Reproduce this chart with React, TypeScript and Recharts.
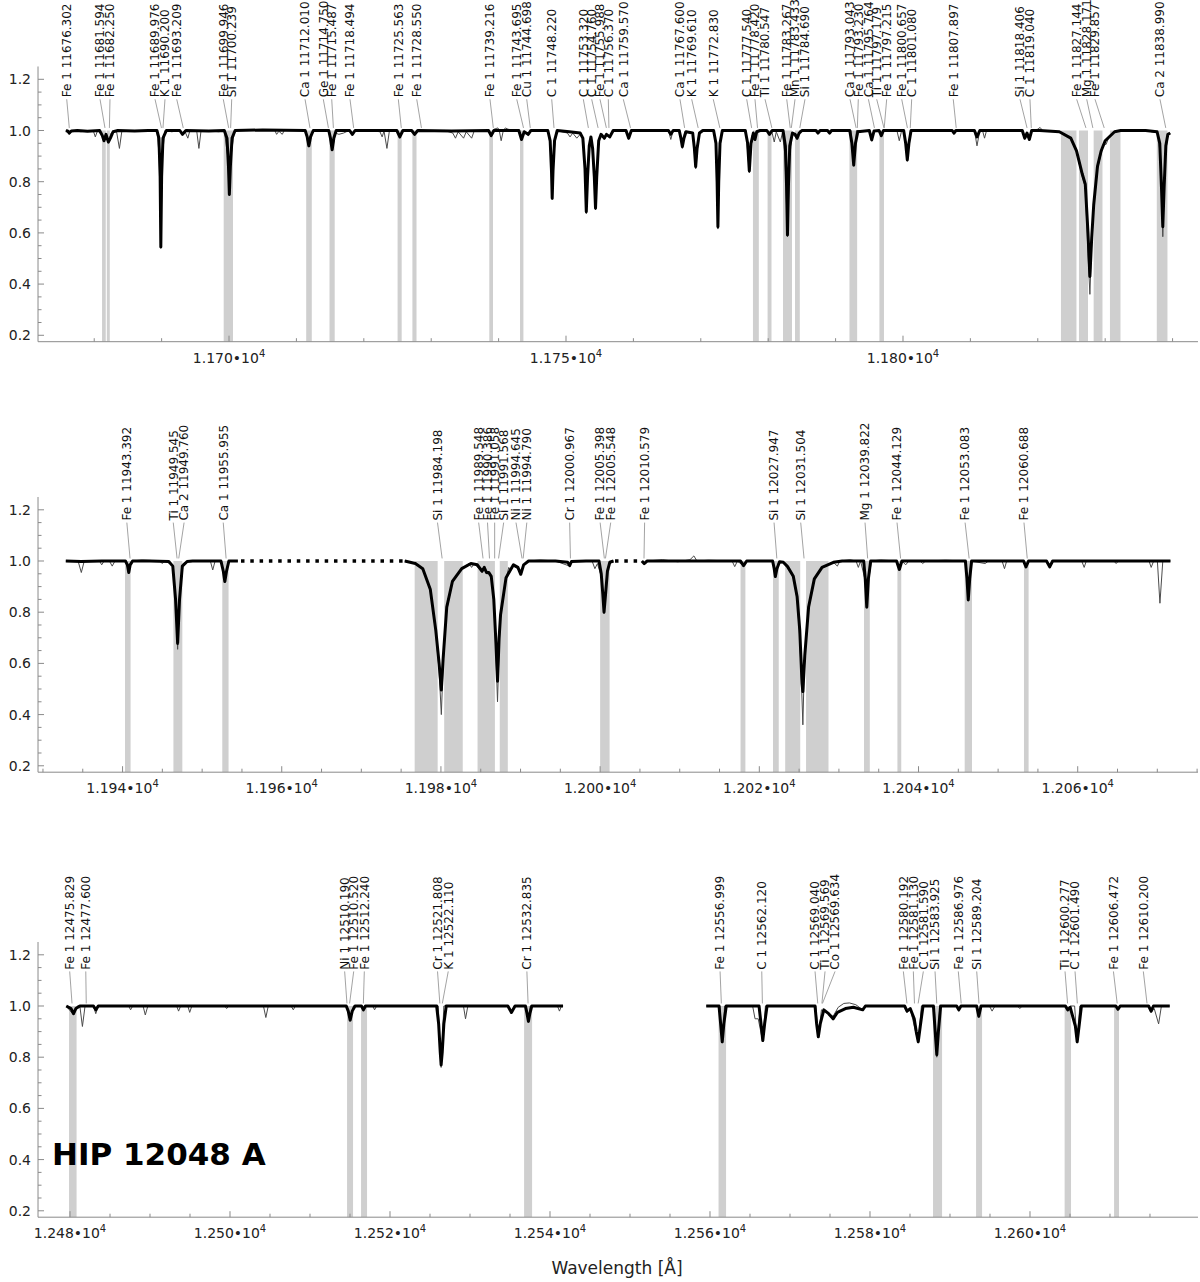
import React from 'react';
import { ComposedChart, Line, XAxis, YAxis, ReferenceArea, ReferenceLine, ReferenceDot } from 'recharts';

type P = [number, number | null];

const FONT = '"DejaVu Sans", Verdana, sans-serif';
const AXIS = '#8a8a8a';

const yTicks = [0.2, 0.25, 0.3, 0.35, 0.4, 0.45, 0.5, 0.55, 0.6, 0.65, 0.7, 0.75, 0.8, 0.85, 0.9, 0.95, 1.0, 1.05, 1.1, 1.15, 1.2];
const yMajor = [0.2, 0.4, 0.6, 0.8, 1.0, 1.2];

// ---------------- Panel 1 ----------------
const p1XMajor = [11700, 11750, 11800];
const p1XMinor = [11680, 11690, 11710, 11720, 11730, 11740, 11760, 11770, 11780, 11790, 11810, 11820, 11830, 11840];

const p1Model: P[] = [
  [11675.8,1.0],[11676.1,0.997],[11676.3,0.99],[11676.6,0.998],[11677.5,1.0],[11679.0,0.997],[11680.8,1.0],
  [11681.2,0.98],[11681.45,0.96],[11681.75,0.985],[11682.1,0.955],[11682.4,0.97],[11682.8,0.995],[11683.5,1.0],
  [11686.0,0.998],[11688.0,1.0],
  [11689.3,1.0],[11689.6,0.97],[11689.78,0.82],[11689.88,0.545],[11690.0,0.82],[11690.2,0.97],[11690.7,1.0],
  [11692.7,1.0],[11693.1,0.985],[11693.6,1.0],[11697.0,0.998],
  [11699.3,1.0],[11699.7,0.97],[11699.92,0.86],[11700.05,0.75],[11700.2,0.86],[11700.45,0.97],[11700.9,1.0],
  [11705.0,1.002],
  [11711.3,1.0],[11711.6,0.975],[11711.84,0.94],[11712.1,0.975],[11712.5,1.0],
  [11714.8,1.0],[11715.05,0.97],[11715.3,0.925],[11715.55,0.97],[11715.9,1.0],
  [11717.9,1.0],[11718.3,0.985],[11718.7,1.0],
  [11724.9,1.0],[11725.34,0.975],[11725.8,1.0],
  [11727.1,1.0],[11727.54,0.985],[11728.0,1.0],[11733.0,0.998],
  [11738.5,1.0],[11738.9,0.98],[11739.3,1.0],
  [11743.0,1.0],[11743.4,0.965],[11743.8,0.995],[11744.39,0.985],[11744.8,1.0],
  [11747.3,1.0],[11747.65,0.96],[11747.85,0.84],[11747.95,0.735],[11748.07,0.84],[11748.3,0.96],[11748.7,1.0],
  [11750.5,0.995],[11752.1,0.99],[11752.5,0.97],[11752.82,0.85],[11753.01,0.683],[11753.2,0.82],[11753.45,0.94],[11753.7,0.975],
  [11753.95,0.93],[11754.2,0.82],[11754.38,0.696],[11754.56,0.82],[11754.85,0.96],[11755.2,0.985],[11755.7,0.97],[11756.0,0.985],[11756.5,0.975],[11757.0,1.0],
  [11758.9,1.0],[11759.3,0.97],[11759.7,1.0],
  [11765.2,1.0],[11765.55,0.985],[11765.9,1.0],
  [11766.8,1.0],[11767.05,0.97],[11767.26,0.937],[11767.5,0.97],[11767.8,0.995],
  [11768.8,0.99],[11769.05,0.93],[11769.24,0.859],[11769.45,0.93],[11769.8,0.99],[11770.3,1.0],
  [11771.9,1.0],[11772.25,0.95],[11772.42,0.8],[11772.54,0.624],[11772.66,0.8],[11772.85,0.95],[11773.2,1.0],
  [11776.6,1.0],[11776.95,0.95],[11777.2,0.842],[11777.45,0.95],[11777.8,0.99],[11778.04,0.965],[11778.3,0.995],[11778.8,1.0],
  [11779.8,1.0],[11780.19,0.985],[11780.6,1.0],
  [11782.2,1.0],[11782.55,0.94],[11782.73,0.78],[11782.86,0.592],[11783.0,0.78],[11783.2,0.94],[11783.6,0.99],[11784.0,0.985],[11784.29,0.97],[11784.6,0.99],[11785.0,1.0],
  [11787.1,1.0],[11787.39,0.99],[11787.7,1.0],[11788.8,1.0],[11789.11,0.99],[11789.4,1.0],
  [11792.1,1.0],[11792.42,0.95],[11792.69,0.865],[11792.95,0.95],[11793.3,0.995],
  [11795.0,1.0],[11795.36,0.963],[11795.7,0.998],[11796.45,1.0],[11796.78,0.98],[11797.1,1.0],
  [11800.1,1.0],[11800.4,0.95],[11800.64,0.885],[11800.88,0.95],[11801.2,1.0],
  [11807.3,1.0],[11807.57,0.99],[11807.85,1.0],
  [11810.6,1.0],[11810.98,0.975],[11811.4,1.0],
  [11817.7,1.0],[11818.07,0.97],[11818.4,0.99],[11818.75,0.965],[11819.1,1.0],
  [11820.3,1.0],[11823.2,0.995],[11824.9,0.97],[11825.75,0.92],[11826.6,0.83],[11827.05,0.79],[11827.45,0.6],[11827.73,0.43],
  [11828.0,0.58],[11828.3,0.71],[11828.86,0.86],[11829.4,0.92],[11830.0,0.96],[11831.4,0.995],[11832.3,1.0],
  [11836.0,1.0],[11837.7,0.995],[11838.1,0.95],[11838.35,0.78],[11838.55,0.624],[11838.75,0.78],[11839.0,0.94],[11839.3,0.985],[11839.65,0.99],
];

const p1Observed: P[] = [
  [11675.8,1.0],[11676.3,0.985],[11676.8,1.0],[11678.0,0.995],[11679.5,1.0],[11679.85,1.0],[11680.16,0.975],[11680.5,1.0],
  [11681.2,0.98],[11681.45,0.955],[11681.75,0.985],[11682.1,0.95],[11682.5,0.99],[11683.3,0.998],[11683.74,0.93],[11684.1,0.998],[11686.0,1.0],
  [11689.3,1.0],[11689.65,0.9],[11689.88,0.54],[11690.1,0.9],[11690.5,1.0],
  [11691.5,0.995],[11692.8,1.0],[11693.1,0.985],[11693.4,1.0],[11693.89,0.97],[11694.2,1.0],[11695.2,1.0],[11695.53,0.93],[11695.85,1.0],
  [11698.5,0.995],[11699.3,1.0],[11699.8,0.9],[11700.05,0.745],[11700.3,0.9],[11700.8,1.0],
  [11703.0,1.003],[11705.0,1.0],[11706.8,1.0],[11707.06,0.985],[11707.4,0.997],[11707.9,0.985],[11708.2,1.0],
  [11711.3,1.0],[11711.84,0.935],[11712.4,1.0],
  [11714.8,1.0],[11715.3,0.92],[11715.8,0.99],[11716.3,0.985],[11717.0,0.99],[11717.8,1.0],[11718.3,0.98],[11718.7,1.0],
  [11721.0,1.0],[11722.4,0.995],[11722.72,0.975],[11723.0,0.998],[11723.43,0.93],[11723.8,1.0],
  [11725.0,1.0],[11725.34,0.97],[11725.7,1.0],[11727.2,1.0],[11727.54,0.98],[11727.9,1.0],
  [11732.0,1.0],[11733.2,0.99],[11733.6,0.97],[11734.0,0.995],[11734.8,0.97],[11735.2,0.995],[11736.0,0.97],[11736.4,1.0],
  [11738.5,1.0],[11738.9,0.975],[11739.3,1.005],[11739.9,1.01],[11740.1,1.0],[11740.38,0.96],[11740.7,1.0],[11741.0,1.01],[11741.4,1.005],[11742.5,1.0],
  [11743.0,1.0],[11743.4,0.96],[11743.8,0.995],[11744.39,0.98],[11744.8,1.0],
  [11747.4,1.0],[11747.75,0.9],[11747.95,0.73],[11748.15,0.9],[11748.6,1.0],
  [11750.2,0.99],[11750.6,0.975],[11751.0,0.99],[11751.6,0.97],[11752.1,0.985],
  [11752.6,0.96],[11752.85,0.82],[11753.01,0.675],[11753.2,0.82],[11753.45,0.94],[11753.7,0.97],[11753.95,0.92],[11754.2,0.8],[11754.38,0.69],
  [11754.56,0.8],[11754.85,0.955],[11755.2,0.985],[11755.7,0.965],[11756.0,0.985],[11756.5,0.97],[11757.0,1.0],
  [11759.0,1.0],[11759.3,0.965],[11759.6,1.0],
  [11765.2,1.0],[11765.55,0.965],[11765.9,1.0],
  [11766.9,1.0],[11767.26,0.93],[11767.6,0.995],[11768.8,0.99],[11769.24,0.85],[11769.7,0.99],[11770.3,1.0],
  [11772.0,1.0],[11772.35,0.9],[11772.54,0.615],[11772.75,0.9],[11773.1,1.0],
  [11776.7,1.0],[11777.2,0.835],[11777.6,0.98],[11778.04,0.96],[11778.4,1.0],
  [11779.9,1.0],[11780.19,0.985],[11780.5,1.0],[11780.9,0.955],[11781.2,0.995],[11781.8,0.955],[11782.1,0.99],
  [11782.5,0.9],[11782.86,0.585],[11783.2,0.9],[11783.6,0.99],[11784.29,0.965],[11784.7,1.0],
  [11787.1,1.0],[11787.39,0.99],[11787.7,1.0],[11788.8,1.0],[11789.11,0.99],[11789.4,1.0],
  [11792.3,1.0],[11792.69,0.86],[11793.1,1.0],[11795.0,1.0],[11795.36,0.96],[11795.7,1.0],[11796.45,1.0],[11796.78,0.975],[11797.1,1.0],
  [11799.1,1.0],[11799.45,0.96],[11799.8,1.0],[11800.2,0.99],[11800.64,0.88],[11801.1,1.0],
  [11807.3,1.0],[11807.57,0.985],[11807.85,1.0],
  [11810.6,1.0],[11810.98,0.94],[11811.4,1.0],[11811.8,1.0],[11812.1,0.97],[11812.4,1.0],
  [11817.7,1.0],[11818.07,0.965],[11818.4,0.99],[11818.75,0.96],[11819.1,1.0],
  [11820.0,1.005],[11820.34,1.012],[11820.7,1.0],
  [11823.2,0.995],[11824.9,0.97],[11825.75,0.915],[11826.6,0.82],[11827.05,0.78],[11827.45,0.52],[11827.73,0.36],[11828.0,0.56],
  [11828.3,0.70],[11828.86,0.85],[11829.4,0.91],[11829.8,0.95],[11830.12,0.945],[11830.5,0.97],[11831.4,0.995],[11832.3,1.0],
  [11834.0,1.003],[11836.0,1.0],[11837.8,0.99],[11838.2,0.9],[11838.55,0.585],[11838.9,0.9],[11839.3,0.98],[11839.65,0.99],
];

const p1Bands: [number, number][] = [
  [11681.16,11681.71],[11681.87,11682.31],[11699.21,11700.59],[11711.45,11712.28],[11714.91,11715.68],[11725.01,11725.62],
  [11727.21,11727.82],[11738.62,11739.17],[11743.18,11743.68],[11777.74,11778.61],[11779.91,11780.49],[11782.20,11783.53],
  [11783.98,11784.69],[11792.06,11793.20],[11796.50,11797.18],[11823.44,11825.74],[11826.11,11827.45],[11828.29,11829.60],
  [11830.71,11832.27],[11837.66,11839.24],
];

const p1Species = ['Fe 1','Fe 1','Fe 1','Fe 1','K 1','Fe 1','Fe 1','Si 1','Ca 1','Ge 1','Fe 1','Fe 1','Fe 1','Fe 1','Fe 1','Fe 1','Cu 1','C 1','C 1','C 1','Fe 1','C 1','Ca 1','Ca 1','K 1','K 1','C 1','Fe 1','Ti 1','Fe 1','Mn 1','Si 1','Ca 1','Fe 1','Ca 1','Ti 1','Fe 1','Fe 1','C 1','Fe 1','Si 1','C 1','Fe 1','Mg 1','Fe 1','Ca 2'];
const p1LineWl = [11676.302,11681.594,11682.250,11689.976,11690.200,11693.209,11699.946,11700.239,11712.010,11714.750,11715.487,11718.494,11725.563,11728.550,11739.216,11743.695,11744.698,11748.220,11753.320,11754.760,11755.988,11756.370,11759.570,11767.600,11769.610,11772.830,11777.540,11778.420,11780.547,11783.267,11783.433,11784.690,11793.043,11793.230,11795.764,11797.179,11797.215,11800.657,11801.080,11807.897,11818.406,11819.040,11827.144,11828.171,11829.857,11838.990];
const p1TargetWl = p1LineWl;
const p1LabelWl = [11675.92,11680.86,11682.34,11689.02,11690.50,11692.24,11699.15,11700.40,11711.28,11713.99,11715.24,11717.95,11725.12,11727.85,11738.72,11742.69,11744.17,11747.88,11752.57,11753.81,11755.04,11756.28,11758.50,11766.91,11768.65,11771.85,11776.81,11778.04,11779.53,11782.75,11783.98,11785.46,11792.14,11793.37,11794.87,11796.10,11797.58,11799.81,11801.29,11807.46,11817.36,11818.84,11825.77,11827.26,11828.49,11838.13];

// ---------------- Panel 2 ----------------
const p2XMajor = [11940, 11960, 11980, 12000, 12020, 12040, 12060];
const p2XMinor = [11930,11935,11945,11950,11955,11965,11970,11975,11985,11990,11995,12005,12010,12015,12025,12030,12035,12045,12050,12055,12065,12070,12075];

const p2Model: P[] = [
  [11932.87,1.0],[11934.79,0.998],[11937.39,1.0],[11940.36,1.0],[11940.61,0.985],[11940.78,0.955],[11940.96,0.985],[11941.26,1.0],
  [11943.44,1.0],[11945.81,0.998],[11946.31,0.98],[11946.66,0.85],[11946.92,0.678],[11947.16,0.85],[11947.51,0.98],[11948.11,0.998],[11948.81,1.0],
  [11952.36,1.0],[11952.66,0.96],[11952.85,0.92],[11953.06,0.96],[11953.36,1.0],[11954.49,1.0],
  [11964.6,null],
  [11975.45,1.0],[11976.79,0.99],[11977.72,0.97],[11978.66,0.89],[11979.35,0.73],[11979.77,0.6],[11980.05,0.496],[11980.28,0.62],[11980.73,0.82],
  [11981.44,0.92],[11982.61,0.97],[11983.76,0.99],[11984.58,0.985],[11985.16,0.96],[11985.44,0.975],[11985.72,0.955],[11986.02,0.955],[11986.32,0.94],
  [11986.64,0.85],[11986.88,0.7],[11987.11,0.53],[11987.31,0.7],[11987.49,0.79],[11988.18,0.935],[11989.11,0.985],[11989.67,0.975],[11990.03,0.948],
  [11990.39,0.985],[11991.01,1.0],[11994.38,1.0],[11995.92,0.995],[11996.17,0.982],[11996.40,0.998],[11998.22,1.0],
  [11999.86,1.0],[12000.14,0.95],[12000.34,0.87],[12000.49,0.8],[12000.68,0.87],[12000.92,0.96],[12001.21,0.995],[12001.68,1.0],
  [12003.5,null],
  [12005.24,1.0],[12005.53,0.99],[12005.91,1.0],[12011.68,1.0],[12017.64,1.0],[12018.02,0.982],[12018.41,1.0],
  [12021.67,1.0],[12021.87,0.97],[12022.01,0.939],[12022.21,0.97],[12022.54,0.997],
  [12023.02,0.995],[12023.55,0.978],[12024.27,0.94],[12024.75,0.86],[12025.08,0.73],[12025.37,0.52],[12025.47,0.49],[12025.71,0.63],[12026.19,0.82],
  [12026.91,0.93],[12027.88,0.975],[12029.31,0.995],[12030.42,1.0],
  [12033.11,1.0],[12033.31,0.93],[12033.50,0.82],[12033.70,0.93],[12033.99,1.0],
  [12037.24,1.0],[12037.59,0.967],[12037.91,1.0],
  [12045.89,1.0],[12046.09,0.93],[12046.25,0.848],[12046.43,0.93],[12046.67,1.0],
  [12053.20,1.0],[12053.50,0.977],[12053.82,1.0],[12056.08,1.0],[12056.48,0.977],[12056.85,1.0],[12071.65,1.0],
];

const p2Observed: P[] = [
  [11932.87,1.0],[11934.41,1.0],[11934.82,0.955],[11935.19,1.0],[11937.10,1.0],[11937.38,0.985],[11937.69,1.0],[11938.35,1.0],[11938.70,0.98],[11939.05,1.0],
  [11940.46,1.0],[11940.78,0.95],[11941.11,1.0],[11942.48,1.004],[11944.69,1.0],[11944.96,0.99],[11945.29,1.0],[11946.31,0.985],[11946.66,0.85],
  [11946.92,0.655],[11947.16,0.85],[11947.61,0.99],[11948.31,1.0],[11951.03,1.0],[11951.33,0.965],[11951.63,1.0],[11952.46,1.0],[11952.85,0.915],[11953.26,1.0],[11954.49,1.0],
  [11964.6,null],
  [11975.45,1.0],[11976.79,0.99],[11977.72,0.97],[11978.66,0.885],[11979.35,0.72],[11979.77,0.57],[11980.05,0.40],[11980.28,0.6],[11980.73,0.81],
  [11981.44,0.915],[11982.61,0.97],[11983.52,0.99],[11983.85,0.975],[11984.18,0.99],[11985.16,0.955],[11985.44,0.97],[11985.72,0.95],[11986.02,0.95],
  [11986.32,0.935],[11986.64,0.84],[11986.88,0.66],[11987.11,0.45],[11987.31,0.66],[11987.49,0.78],[11988.18,0.93],[11988.52,0.975],[11988.78,0.965],
  [11989.11,0.98],[11989.67,0.97],[11990.03,0.945],[11990.39,0.985],[11991.01,1.0],[11992.46,1.004],[11994.38,1.0],[11996.17,0.98],[11996.40,1.0],
  [11998.99,1.0],[11999.34,0.97],[11999.66,0.99],[12000.14,0.94],[12000.49,0.795],[12000.92,0.96],[12001.21,0.995],[12001.68,1.0],
  [12003.5,null],
  [12005.24,1.0],[12005.53,0.99],[12005.91,1.0],[12007.83,1.005],[12009.76,0.997],[12011.29,1.005],[12011.78,1.02],[12012.16,1.0],[12013.60,1.003],
  [12016.58,1.0],[12016.91,0.978],[12017.25,1.0],[12018.02,0.98],[12018.41,1.0],[12021.67,1.0],[12022.01,0.935],[12022.34,0.99],[12023.02,0.995],
  [12023.55,0.975],[12024.27,0.935],[12024.75,0.85],[12025.08,0.7],[12025.32,0.5],[12025.47,0.36],[12025.62,0.55],[12025.71,0.62],[12026.19,0.815],
  [12026.91,0.925],[12027.88,0.975],[12029.31,0.995],[12029.80,0.98],[12030.13,1.0],[12031.38,1.005],[12032.15,1.0],[12032.44,0.975],[12032.72,1.0],
  [12033.26,0.93],[12033.50,0.815],[12033.75,0.93],[12034.09,1.0],[12035.22,1.004],[12037.24,1.0],[12037.59,0.962],[12037.91,1.0],[12038.39,0.985],
  [12038.78,1.0],[12040.22,1.0],[12040.52,0.99],[12040.89,1.0],[12043.39,1.003],[12045.89,1.0],[12046.25,0.845],[12046.57,1.0],[12048.39,0.99],[12048.77,1.0],
  [12050.50,1.0],[12050.80,0.97],[12051.08,1.0],[12053.20,1.0],[12053.50,0.975],[12053.82,1.0],[12056.08,1.0],[12056.48,0.975],[12056.85,1.0],
  [12060.50,1.0],[12060.81,0.975],[12061.08,1.0],[12064.54,1.0],[12064.83,0.99],[12065.12,1.0],[12068.96,1.0],[12069.23,0.975],[12069.54,1.0],
  [12070.01,1.0],[12070.33,0.835],[12070.69,1.0],[12071.65,1.0],
];

const p2Dotted: P[][] = [
  [[11954.88,1.0],[11975.45,1.0]],
  [[12001.87,1.0],[12005.14,1.0]],
];

const p2Bands: [number, number][] = [
  [11940.31,11941.01],[11946.39,11947.51],[11952.53,11953.32],[11976.70,11979.59],[11980.41,11982.74],[11984.60,11986.78],
  [11987.39,11988.40],[12000.00,12001.19],[12017.64,12018.25],[12021.72,12022.44],[12023.25,12025.14],[12025.87,12028.69],
  [12033.15,12033.88],[12037.35,12037.83],[12045.80,12046.72],[12053.25,12053.83],
];

const p2Species = ['Fe 1','Ti 1','Ca 2','Ca 1','Si 1','Fe 1','Fe 1','Fe 1','Si 1','Ni 1','Ni 1','Cr 1','Fe 1','Fe 1','Fe 1','Si 1','Si 1','Mg 1','Fe 1','Fe 1','Fe 1'];
const p2LineWl = [11943.392,11949.545,11949.760,11955.955,11984.198,11989.548,11990.386,11991.058,11991.568,11994.645,11994.790,12000.967,12005.398,12005.548,12010.579,12027.947,12031.504,12039.822,12044.129,12053.083,12060.688];
const p2TargetWl = [11940.94,11946.85,11947.06,11953.01,11980.15,11985.29,11986.10,11986.75,11987.24,11990.19,11990.33,11996.27,12000.53,12000.67,12005.51,12022.20,12025.62,12033.61,12037.75,12046.36,12053.66];
const p2LabelWl = [11940.54,11946.37,11947.73,11952.65,11979.57,11984.74,11985.85,11986.75,11987.88,11989.43,11990.79,11996.17,12000.00,12001.33,12005.59,12021.85,12025.20,12033.28,12037.30,12045.85,12053.25];

// ---------------- Panel 3 ----------------
const p3XMajor = [12480, 12500, 12520, 12540, 12560, 12580, 12600];
const p3XMinor = [12485,12490,12495,12505,12510,12515,12525,12530,12535,12545,12550,12555,12565,12570,12575,12585,12590,12595,12605,12610,12615];

const p3Model: P[] = [
  [12479.53,1.0],[12480.13,0.99],[12480.44,0.97],[12480.73,0.99],[12481.23,1.0],[12482.93,1.0],[12483.22,0.985],[12483.53,1.0],
  [12514.53,1.0],[12514.78,0.98],[12515.02,0.945],[12515.28,0.98],[12515.63,1.0],[12516.43,1.0],[12516.68,0.985],[12516.93,1.0],
  [12525.83,1.0],[12526.08,0.93],[12526.28,0.82],[12526.39,0.77],[12526.53,0.82],[12526.73,0.93],[12527.03,1.0],
  [12534.73,1.0],[12535.18,0.975],[12535.63,1.0],[12536.93,1.0],[12537.13,0.97],[12537.30,0.94],[12537.48,0.97],[12537.73,1.0],[12541.63,1.0],
  [12550.4,null],
  [12559.53,1.0],[12561.13,1.0],[12561.33,0.93],[12561.53,0.86],[12561.73,0.93],[12562.03,1.0],
  [12566.13,1.0],[12566.38,0.93],[12566.60,0.865],[12566.83,0.93],[12567.13,1.0],
  [12573.13,1.0],[12573.33,0.93],[12573.54,0.88],[12573.78,0.93],[12574.23,0.985],[12574.83,0.97],[12575.39,0.95],[12575.93,0.975],
  [12576.93,0.99],[12577.93,0.995],[12579.09,0.985],[12579.43,1.0],
  [12584.33,1.0],[12584.63,0.98],[12585.03,0.99],[12585.53,0.95],[12585.78,0.9],[12586.03,0.86],[12586.28,0.92],[12586.63,1.0],
  [12587.93,1.0],[12588.15,0.9],[12588.35,0.81],[12588.55,0.9],[12588.83,1.0],
  [12590.83,1.0],[12591.10,0.985],[12591.38,1.0],[12593.33,1.0],[12593.60,0.96],[12593.88,1.0],
  [12604.43,1.0],[12604.71,0.985],[12605.03,0.995],[12605.68,0.92],[12605.90,0.86],[12606.13,0.92],[12606.43,1.0],
  [12610.73,1.0],[12610.99,0.987],[12611.28,1.0],[12614.83,1.0],[12615.14,0.98],[12615.43,1.0],[12617.47,1.0],
];

const p3Observed: P[] = [
  [12479.53,1.0],[12480.44,0.965],[12480.93,1.0],[12481.23,1.0],[12481.55,0.92],[12481.88,1.0],[12482.93,1.0],[12483.22,0.97],[12483.53,1.0],
  [12487.33,1.0],[12487.57,0.985],[12487.83,1.0],[12489.13,1.0],[12489.41,0.965],[12489.73,1.0],[12493.33,1.0],[12493.57,0.98],[12493.83,1.0],
  [12494.73,1.0],[12494.96,0.975],[12495.23,1.0],[12499.33,1.0],[12499.58,0.99],[12499.83,1.0],[12504.18,1.0],[12504.48,0.955],[12504.78,1.0],
  [12507.63,1.0],[12507.91,0.985],[12508.18,1.0],[12514.63,1.0],[12515.02,0.94],[12515.43,1.0],[12516.43,1.0],[12516.68,0.985],[12516.93,1.0],
  [12517.83,1.0],[12518.07,0.985],[12518.33,1.0],[12526.03,1.0],[12526.39,0.76],[12526.73,1.0],[12529.18,1.0],[12529.44,0.95],[12529.73,1.0],
  [12534.83,1.0],[12535.18,0.975],[12535.53,1.0],[12537.03,1.0],[12537.30,0.935],[12537.53,1.0],[12540.93,1.0],[12541.18,0.98],[12541.43,1.0],[12541.63,1.0],
  [12550.4,null],
  [12559.53,1.0],[12561.23,1.0],[12561.53,0.855],[12561.83,1.0],[12565.33,1.0],[12565.63,0.95],[12566.03,0.95],[12566.60,0.86],[12566.93,1.0],
  [12573.23,1.0],[12573.54,0.875],[12573.93,0.985],[12575.39,0.96],[12576.03,0.995],[12576.73,1.01],[12577.43,1.012],[12578.23,1.005],[12579.09,0.985],
  [12579.43,1.0],[12584.33,1.0],[12584.63,0.975],[12585.03,0.99],[12586.03,0.855],[12586.43,1.0],[12588.03,1.0],[12588.35,0.8],[12588.73,1.0],
  [12590.83,1.0],[12591.10,0.98],[12591.38,1.0],[12593.33,1.0],[12593.60,0.955],[12593.93,1.0],[12594.93,1.0],[12595.26,0.98],[12595.63,1.0],
  [12598.43,1.0],[12598.73,0.99],[12599.03,1.0],[12604.43,1.0],[12604.71,0.98],[12605.03,1.0],[12605.58,1.0],[12605.90,0.855],[12606.23,1.0],
  [12610.73,1.0],[12610.99,0.985],[12611.33,1.0],[12614.83,1.0],[12615.14,0.975],[12615.53,0.99],[12616.08,0.93],[12616.43,1.0],[12617.47,1.0],
];

const p3Bands: [number, number][] = [
  [12479.88,12480.82],[12514.63,12515.38],[12516.38,12517.13],[12536.76,12537.76],[12561.07,12562.01],[12587.88,12589.01],
  [12593.26,12594.01],[12604.33,12605.13],[12610.51,12611.13],
];

const p3Species = ['Fe 1','Fe 1','Ni 1','Fe 1','Fe 1','Cr 1','K 1','Cr 1','Fe 1','C 1','C 1','Ti 1','Co 1','Fe 1','Fe 1','C 1','Si 1','Fe 1','Si 1','Ti 1','C 1','Fe 1','Fe 1'];
const p3LineWl = [12475.829,12477.600,12510.190,12510.520,12512.240,12521.808,12522.110,12532.835,12556.999,12562.120,12569.040,12569.569,12569.634,12580.192,12581.130,12581.590,12583.925,12586.976,12589.204,12600.277,12601.490,12606.472,12610.200];
const p3TargetWl = [12480.25,12482.03,12514.62,12514.95,12516.67,12526.23,12526.54,12537.26,12561.42,12566.55,12573.47,12573.99,12574.06,12584.62,12585.56,12586.02,12588.35,12591.40,12593.63,12604.70,12605.92,12610.90,12614.63];
const p3LabelWl = [12479.96,12481.97,12514.33,12515.46,12516.79,12525.94,12527.28,12537.11,12561.26,12566.47,12573.13,12574.38,12575.63,12584.17,12585.42,12586.67,12588.13,12591.04,12593.34,12604.38,12605.63,12610.43,12614.17];

// ---------------- helpers ----------------
const rows = (pts: P[]) => pts.map(([w, f]) => ({ w, f }));
const isIn = (arr: number[], v: number) => arr.some((a) => Math.abs(a - v) < 1e-6);

const YTick = (props: any) => {
  const { x, y, payload, side } = props;
  const v = payload.value as number;
  const major = isIn(yMajor, v);
  const len = major ? 6 : 3.5;
  const dir = side === 'left' ? 1 : -1;
  return (
    <g>
      <line x1={x} x2={x + dir * len} y1={y} y2={y} stroke={AXIS} strokeWidth={1} />
      {side === 'left' && major ? (
        <text x={x - 7} y={y} dy="0.36em" textAnchor="end" fontSize={14} fontFamily={FONT} fill="#222">
          {v.toFixed(1)}
        </text>
      ) : null}
    </g>
  );
};

const XTick = (props: any) => {
  const { x, y, payload, majors } = props;
  const v = payload.value as number;
  const major = isIn(majors, v);
  const len = major ? 6 : 3.5;
  return (
    <g>
      <line x1={x} x2={x} y1={y} y2={y - len} stroke={AXIS} strokeWidth={1} />
      {major ? (
        <text x={x} y={y + 21} textAnchor="middle" fontSize={14} fontFamily={FONT} fill="#222">
          {(v / 1e4).toFixed(3) + '\u202210'}
          <tspan dy={-6} fontSize={10}>4</tspan>
        </text>
      ) : null}
    </g>
  );
};

const LabelText = (props: any) => {
  const { cx, cy, text } = props;
  if (cx == null || cy == null) return null;
  return (
    <text x={cx} y={cy} transform={`rotate(-90 ${cx} ${cy})`} dy="0.36em" fontSize={12} fontFamily={FONT} fill="#111">
      {text}
    </text>
  );
};

type PanelProps = {
  top: number; height: number; marginTop: number; xDomain: [number, number];
  xMajor: number[]; xMinor: number[]; model: P[]; observed: P[]; dotted: P[][];
  bands: [number, number][]; species: string[]; lineWl: number[]; targetWl: number[]; labelWl: number[];
  textV: number; leadTop: number;
};

function Panel(p: PanelProps) {
  const xTicks = [...p.xMajor, ...p.xMinor].sort((a, b) => a - b);
  const yDomain: [number, number] = [0.175, 1.25];
  return (
    <div style={{ position: 'absolute', left: 0, top: p.top, width: 1200, height: p.height }}>
      <ComposedChart width={1200} height={p.height} margin={{ top: p.marginTop, right: 2, bottom: 0, left: 0 }}>
        <XAxis dataKey="w" type="number" domain={p.xDomain} allowDataOverflow ticks={xTicks} interval={0}
          tickLine={false} tickSize={0} tickMargin={0} axisLine={{ stroke: AXIS }} height={30}
          tick={<XTick majors={p.xMajor} />} />
        <YAxis type="number" domain={yDomain} allowDataOverflow ticks={yTicks} interval={0} width={38}
          tickLine={false} tickSize={0} tickMargin={0} axisLine={{ stroke: AXIS }} tick={<YTick side="left" />} />
        <YAxis yAxisId="r" orientation="right" type="number" domain={yDomain} allowDataOverflow ticks={yTicks} interval={0} width={0}
          tickLine={false} tickSize={0} tickMargin={0} axisLine={{ stroke: AXIS }} tick={<YTick side="right" />} />
        {p.bands.map(([a, b], i) => (
          <ReferenceArea key={'band' + i} x1={a} x2={b} y1={0.175} y2={1.0} fill="#cfcfcf" fillOpacity={1} stroke="none" ifOverflow="hidden" />
        ))}
        <Line data={rows(p.observed)} dataKey="f" type="linear" stroke="#4a4a4a" strokeWidth={1} dot={false}
          activeDot={false} isAnimationActive={false} connectNulls={false} />
        <Line data={rows(p.model)} dataKey="f" type="linear" stroke="#000" strokeWidth={3} dot={false}
          activeDot={false} isAnimationActive={false} connectNulls={false} strokeLinejoin="round" />
        {p.dotted.map((seg, i) => (
          <Line key={'dot' + i} data={rows(seg)} dataKey="f" type="linear" stroke="#000" strokeWidth={3.5}
            strokeDasharray="3.5 5.8" dot={false} activeDot={false} isAnimationActive={false} />
        ))}
        {p.targetWl.map((wl, i) => (
          <ReferenceLine key={'lead' + i} segment={[{ x: p.labelWl[i], y: p.leadTop }, { x: wl, y: 1.01 }]}
            stroke="#8c8c8c" strokeWidth={0.8} ifOverflow="visible" />
        ))}
        {p.lineWl.map((wl, i) => (
          <ReferenceDot key={'lab' + i} x={p.labelWl[i]} y={p.textV} r={0} ifOverflow="visible"
            shape={(sp: any) => <LabelText {...sp} text={`${p.species[i]} ${wl.toFixed(3)}`} />} />
        ))}
      </ComposedChart>
    </div>
  );
}

export default function App() {
  return (
    <div style={{ position: 'absolute', left: 0, top: 0, width: 1200, height: 1282, background: '#fff', overflow: 'hidden' }}>
      <Panel top={0} height={371.7} marginTop={66.5} xDomain={[11671.66, 11843.77]} xMajor={p1XMajor} xMinor={p1XMinor}
        model={p1Model} observed={p1Observed} dotted={[]} bands={p1Bands} species={p1Species} lineWl={p1LineWl}
        targetWl={p1TargetWl} labelWl={p1LabelWl} textV={1.13} leadTop={1.122} />
      <Panel top={420} height={382.2} marginTop={77} xDomain={[11929.38, 12075.11]} xMajor={p2XMajor} xMinor={p2XMinor}
        model={p2Model} observed={p2Observed} dotted={p2Dotted} bands={p2Bands} species={p2Species} lineWl={p2LineWl}
        targetWl={p2TargetWl} labelWl={p2LabelWl} textV={1.158} leadTop={1.15} />
      <Panel top={870} height={377.2} marginTop={72} xDomain={[12476.0, 12621.0]} xMajor={p3XMajor} xMinor={p3XMinor}
        model={p3Model} observed={p3Observed} dotted={[]} bands={p3Bands} species={p3Species} lineWl={p3LineWl}
        targetWl={p3TargetWl} labelWl={p3LabelWl} textV={1.142} leadTop={1.135} />
      <svg width={1200} height={1282} style={{ position: 'absolute', left: 0, top: 0, pointerEvents: 'none' }}>
        <text x={52} y={1165} fontSize={31} fontWeight="bold" fontFamily={FONT} fill="#000">HIP 12048 A</text>
        <text x={617} y={1274} textAnchor="middle" fontSize={17} fontFamily={FONT} fill="#222">Wavelength [Å]</text>
      </svg>
    </div>
  );
}
